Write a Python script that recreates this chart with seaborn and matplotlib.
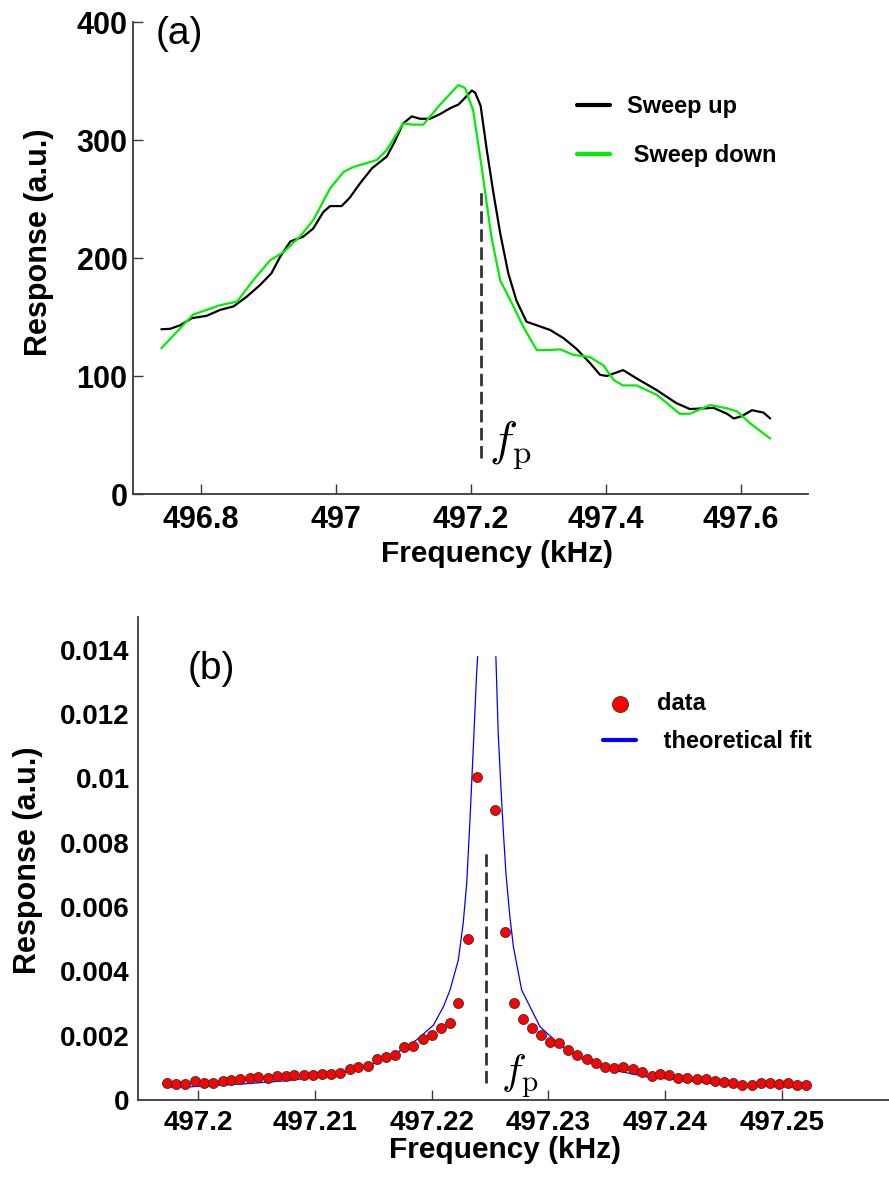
import matplotlib
matplotlib.use("Agg")
import matplotlib.pyplot as plt
import seaborn as sns
import pandas as pd

# ---------------- Panel (a) data ----------------
up_freq = [496.742, 496.755, 496.770, 496.787, 496.809, 496.829, 496.849, 496.868, 496.888,
           496.905, 496.918, 496.933, 496.952, 496.967, 496.982, 496.992, 497.009, 497.021,
           497.036, 497.054, 497.076, 497.088, 497.100, 497.113, 497.125, 497.140, 497.155,
           497.170, 497.182, 497.189, 497.202, 497.207, 497.215, 497.224, 497.234, 497.244,
           497.256, 497.268, 497.283, 497.298, 497.318, 497.338, 497.357, 497.377, 497.392,
           497.402, 497.426, 497.446, 497.476, 497.505, 497.525, 497.560, 497.580, 497.590,
           497.602, 497.617, 497.634, 497.644]
up_resp = [139.6, 140, 143, 149, 151, 156, 159, 167, 177,
           187, 201, 214, 218, 225, 239, 244, 244, 251,
           263, 276, 286, 299, 314, 320, 318, 318, 322,
           327, 330, 334, 342, 340, 329, 292, 255, 221,
           187, 164, 146, 143, 139, 132, 123, 111, 101,
           100, 105, 98, 88, 77, 72, 73, 68, 64,
           66, 71, 69, 64]

down_freq = [496.742, 496.765, 496.789, 496.809, 496.829, 496.854, 496.878, 496.903, 496.923,
             496.947, 496.967, 496.992, 497.012, 497.026, 497.061, 497.076, 497.100, 497.115,
             497.130, 497.155, 497.182, 497.192, 497.204, 497.217, 497.231, 497.244, 497.261,
             497.278, 497.298, 497.318, 497.333, 497.352, 497.377, 497.397, 497.412, 497.426,
             497.446, 497.476, 497.510, 497.525, 497.555, 497.580, 497.595, 497.614, 497.644]
down_resp = [123.5, 137.5, 152, 156, 160, 163, 181, 198, 205,
             218, 232, 259, 273, 277, 283, 291.5, 314, 313,
             313, 330, 346.6, 344, 325, 275, 218, 181, 162,
             142, 122, 122, 122.6, 118, 116, 109, 96.6, 92,
             92, 84, 68, 68, 75.4, 72.6, 70, 60, 47]

a_xticks = [496.8, 497.0, 497.2, 497.4, 497.6]
a_xticklabels = ["496.8", "497", "497.2", "497.4", "497.6"]
a_yticks = [0, 100, 200, 300, 400]
a_yticklabels = ["0", "100", "200", "300", "400"]
a_fp = 497.215
a_fp_lo, a_fp_hi = 30.5, 256

# ---------------- Panel (b) data ----------------
b_freq = [497.19729, 497.19809, 497.19886, 497.19972, 497.20049, 497.20129, 497.20209, 497.20280,
          497.20357, 497.20443, 497.20514, 497.20595, 497.20672, 497.20749, 497.20823, 497.20906,
          497.20985, 497.21057, 497.21137, 497.21214, 497.21300, 497.21371, 497.21457, 497.21529,
          497.21608, 497.21686, 497.21763, 497.21842, 497.21923, 497.22000, 497.22077, 497.22157,
          497.22228, 497.22314, 497.22391, 497.22542, 497.22628, 497.22708, 497.22780, 497.22862,
          497.22934, 497.23014, 497.23093, 497.23171, 497.23248, 497.23328, 497.23405, 497.23485,
          497.23565, 497.23642, 497.23722, 497.23799, 497.23885, 497.23956, 497.24036, 497.24113,
          497.24190, 497.24271, 497.24350, 497.24428, 497.24507, 497.24584, 497.24662, 497.24742,
          497.24819, 497.24899, 497.24979, 497.25056, 497.25133, 497.25207]
b_resp = [0.00052, 0.00050, 0.00050, 0.00059, 0.00054, 0.00054, 0.00060, 0.00062,
          0.00066, 0.00067, 0.00070, 0.00069, 0.00075, 0.00075, 0.00078, 0.00078,
          0.00078, 0.00080, 0.00081, 0.00083, 0.00095, 0.00104, 0.00106, 0.00127,
          0.00133, 0.00140, 0.00164, 0.00168, 0.00189, 0.00202, 0.00223, 0.00239,
          0.00301, 0.00500, 0.01003, 0.00902, 0.00522, 0.00303, 0.00251, 0.00223,
          0.00202, 0.00181, 0.00176, 0.00156, 0.00140, 0.00128, 0.00116, 0.00104,
          0.00099, 0.00102, 0.00096, 0.00086, 0.00076, 0.00080, 0.00078, 0.00067,
          0.00067, 0.00065, 0.00065, 0.00060, 0.00055, 0.00052, 0.00047, 0.00047,
          0.00052, 0.00052, 0.00050, 0.00052, 0.00047, 0.00047]

fit_left_freq = [497.19715, 497.19929, 497.20386, 497.20757, 497.21157, 497.21443, 497.21671,
                 497.21871, 497.22015, 497.22100, 497.22157, 497.22228, 497.22270, 497.22300,
                 497.22328, 497.22357, 497.22385, 497.22394]
fit_left_resp = [0.00040, 0.00041, 0.00050, 0.00060, 0.00078, 0.00104, 0.00140,
                 0.00187, 0.00233, 0.00290, 0.00342, 0.00435, 0.00550, 0.00674,
                 0.00870, 0.01100, 0.01327, 0.01379]
fit_right_freq = [497.22550, 497.22570, 497.22590, 497.22613, 497.22636, 497.22670, 497.22700,
                  497.22771, 497.22928, 497.23100, 497.23271, 497.23556, 497.23842, 497.24128,
                  497.24413, 497.24699, 497.24985, 497.25199]
fit_right_resp = [0.01379, 0.01140, 0.00995, 0.00840, 0.00705, 0.00570, 0.00477,
                  0.00342, 0.00228, 0.00171, 0.00130, 0.00093, 0.00072, 0.00062,
                  0.00052, 0.00045, 0.00041, 0.00041]

b_xticks = [497.20, 497.21, 497.22, 497.23, 497.24, 497.25]
b_xticklabels = ["497.2", "497.21", "497.22", "497.23", "497.24", "497.25"]
b_yticks = [0, 0.002, 0.004, 0.006, 0.008, 0.010, 0.012, 0.014]
b_yticklabels = ["0", "0.002", "0.004", "0.006", "0.008", "0.01", "0.012", "0.014"]
b_fp = 497.22466
b_fp_lo, b_fp_hi = 0.00053, 0.00767

# ---------------- Style ----------------
sns.set_style("white")
plt.rcParams['font.family'] = ['Liberation Sans', 'DejaVu Sans']
plt.rcParams['mathtext.fontset'] = 'cm'
for key in ("text.color", "axes.labelcolor", "xtick.color", "ytick.color"):
    plt.rcParams[key] = "black"

W, H = 889, 1177
fig = plt.figure(figsize=(W / 100, H / 100), dpi=100)
axA = fig.add_axes([133 / W, 1 - 494 / H, 675 / W, 472 / H])
axB = fig.add_axes([138 / W, 1 - 1100 / H, 751 / W, 483 / H])

spine_col = "#3a3a3a"
for ax in (axA, axB):
    for s in ("top", "right"):
        ax.spines[s].set_visible(False)
    for s in ("left", "bottom"):
        ax.spines[s].set_color(spine_col)
        ax.spines[s].set_linewidth(1.3)

# ---------------- Panel (a) ----------------
df_up = pd.DataFrame({"f": up_freq, "r": up_resp})
df_dn = pd.DataFrame({"f": down_freq, "r": down_resp})
sns.lineplot(data=df_up, x="f", y="r", ax=axA, color="black", linewidth=1.6,
             sort=False, label="Sweep up")
sns.lineplot(data=df_dn, x="f", y="r", ax=axA, color="#00ee00", linewidth=1.6,
             sort=False, label=" Sweep down")
axA.vlines(a_fp, a_fp_lo, a_fp_hi, colors="#333333", linestyles=(0, (4.5, 2)), linewidth=2)
axA.text(497.228, 33, r"$f_\mathrm{p}$", fontsize=34, ha="left", va="baseline")

axA.set_xlim(496.7, 497.7)
axA.set_ylim(0, 400)
axA.set_xticks(a_xticks)
axA.set_xticklabels(a_xticklabels, fontsize=22, fontweight="bold")
axA.set_yticks(a_yticks)
axA.set_yticklabels(a_yticklabels, fontsize=22, fontweight="bold")
axA.tick_params(axis="both", direction="in", length=7, width=1, color=spine_col,
                bottom=True, left=True)
axA.tick_params(axis="x", pad=8)
axA.tick_params(axis="y", pad=4)
axA.set_xlabel("Frequency (kHz)", fontsize=21.5, fontweight="bold")
axA.set_ylabel("Response (a.u.)", fontsize=22, fontweight="bold")
axA.xaxis.set_label_coords(0.539, -0.097)
axA.yaxis.set_label_coords(-0.117, 0.534)

legA = axA.legend(loc="upper left", bbox_to_anchor=(577 / W, 1 - 95 / H),
                  bbox_transform=fig.transFigure, frameon=False,
                  prop={"weight": "bold", "size": 17}, handlelength=1.4,
                  handletextpad=0.7, labelspacing=1.1, borderpad=0, borderaxespad=0)
for ln in legA.get_lines():
    ln.set_linewidth(3)

# ---------------- Panel (b) ----------------
df_b = pd.DataFrame({"f": b_freq, "r": b_resp})
df_fl = pd.DataFrame({"f": fit_left_freq, "r": fit_left_resp})
df_fr = pd.DataFrame({"f": fit_right_freq, "r": fit_right_resp})
sns.lineplot(data=df_fl, x="f", y="r", ax=axB, color="#0000ff", linewidth=0.9,
             sort=False, label=" theoretical fit")
sns.lineplot(data=df_fr, x="f", y="r", ax=axB, color="#0000ff", linewidth=0.9,
             sort=False, legend=False)
sns.scatterplot(data=df_b, x="f", y="r", ax=axB, color="#ff0000", s=52,
                edgecolor="#333333", linewidth=0.6, label="data", zorder=3)
axB.vlines(b_fp, b_fp_lo, b_fp_hi, colors="#333333", linestyles=(0, (4.5, 2)), linewidth=2)
axB.text(497.2259, 0.00047, r"$f_\mathrm{p}$", fontsize=30, ha="left", va="baseline")

axB.set_xlim(497.19483, 497.25919)
axB.set_ylim(0, 0.01502)
axB.set_xticks(b_xticks)
axB.set_xticklabels(b_xticklabels, fontsize=20, fontweight="bold")
axB.set_yticks(b_yticks)
axB.set_yticklabels(b_yticklabels, fontsize=20, fontweight="bold")
axB.tick_params(axis="x", direction="in", length=7, width=1, color=spine_col, pad=7,
                bottom=True)
axB.tick_params(axis="y", direction="in", length=0, pad=6)
axB.set_xlabel("Frequency (kHz)", fontsize=21.5, fontweight="bold")
axB.set_ylabel("Response (a.u.)", fontsize=22, fontweight="bold")
axB.xaxis.set_label_coords(0.489, -0.0745)
axB.yaxis.set_label_coords(-0.1265, 0.497)

h, l = axB.get_legend_handles_labels()
order = [l.index("data"), l.index(" theoretical fit")]
legB = axB.legend([h[i] for i in order], [l[i] for i in order],
                  loc="upper left", bbox_to_anchor=(603 / W, 1 - 692 / H),
                  bbox_transform=fig.transFigure, frameon=False,
                  prop={"weight": "bold", "size": 17}, handlelength=1.4,
                  handletextpad=0.9, labelspacing=0.65, borderpad=0, borderaxespad=0,
                  markerscale=1.6)
for ln in legB.get_lines():
    ln.set_linewidth(3)

fig.text(179 / W, 1 - 34 / H, "(a)", fontsize=28, ha="center", va="center")
fig.text(211 / W, 1 - 669 / H, "(b)", fontsize=28, ha="center", va="center")

fig.savefig("out.png", dpi=100)
